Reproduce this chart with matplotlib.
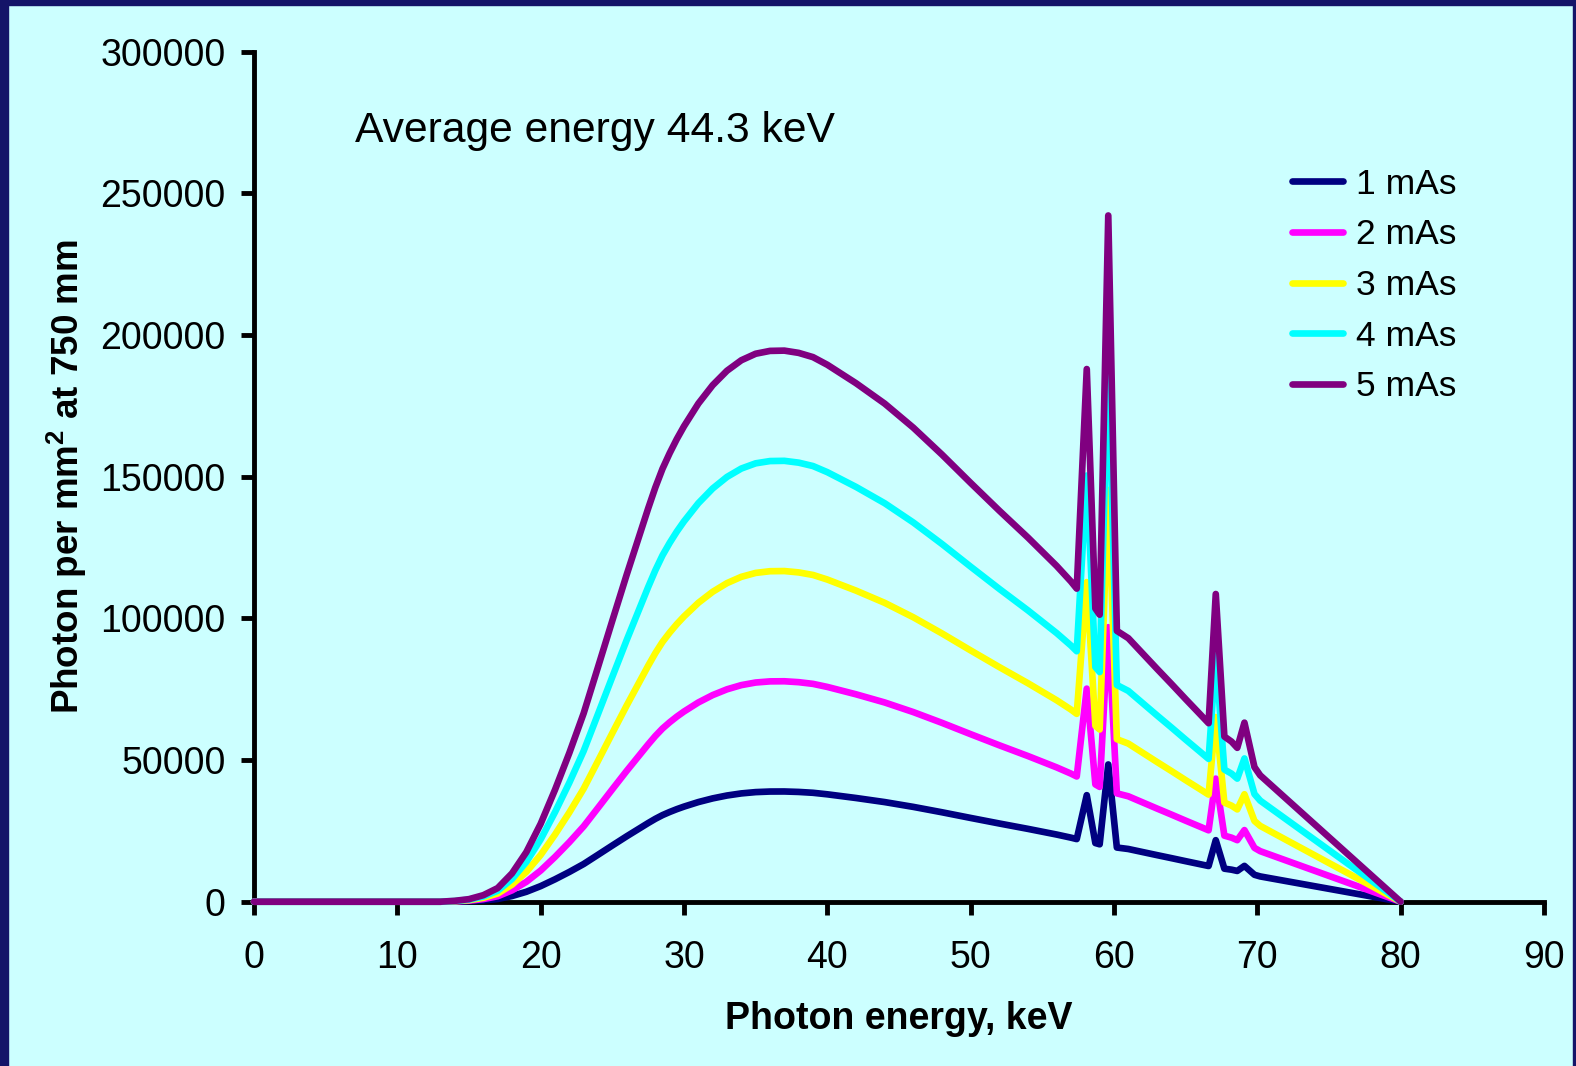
import matplotlib
matplotlib.use("Agg")
import matplotlib.pyplot as plt
from matplotlib.patches import Rectangle

plt.rcParams["font.family"] = ["Liberation Sans", "DejaVu Sans"]
plt.rcParams["mathtext.fontset"] = "custom"
plt.rcParams["mathtext.rm"] = "Liberation Sans"
plt.rcParams["mathtext.bf"] = "Liberation Sans:bold"

# Photon energy grid, keV
energy_kev = [0, 13, 14, 15, 16, 17, 18, 19, 20, 21, 22, 23, 24, 25, 26, 27, 27.5,
              28, 28.5, 29, 29.5, 30, 31, 32, 33, 34, 35, 36, 37, 38, 39, 40, 42,
              44, 46, 48, 50, 52, 54, 55, 56, 57, 57.4, 58.1, 58.7, 59.0, 59.6,
              60.2, 61, 62, 63, 64, 65, 66, 66.6, 67.1, 67.7, 68.2, 68.6, 69.1,
              69.8, 70.2, 72, 74, 76, 78, 80]

# Photons per mm^2 at 750 mm
photons_1mas = [0, 0, 60, 180, 460, 960, 2000, 3500, 5500, 7900, 10500, 13300,
                16560, 19840, 23080, 26200, 27760, 29240, 30560, 31660, 32660,
                33560, 35160, 36460, 37480, 38220, 38680, 38880, 38900, 38740,
                38440, 37900, 36600, 35160, 33460, 31560, 29560, 27600, 25700,
                24700, 23700, 22600, 22100, 37600, 20700, 20260, 48440, 19120,
                18600, 17520, 16440, 15380, 14300, 13240, 12600, 21720, 11660,
                11300, 10860, 12640, 9500, 8920, 7280, 5460, 3640, 1820, 0]
photons_2mas = [0, 0, 120, 360, 920, 1920, 4000, 7000, 11000, 15800, 21000,
                26600, 33120, 39680, 46160, 52400, 55520, 58480, 61120, 63320,
                65320, 67120, 70320, 72920, 74960, 76440, 77360, 77760, 77800,
                77480, 76880, 75800, 73200, 70320, 66920, 63120, 59120, 55200,
                51400, 49400, 47400, 45200, 44200, 75200, 41400, 40520, 96880,
                38240, 37200, 35040, 32880, 30760, 28600, 26480, 25200, 43440,
                23320, 22600, 21720, 25280, 19000, 17840, 14560, 10920, 7280,
                3640, 0]
photons_3mas = [0, 0, 180, 540, 1380, 2880, 6000, 10500, 16500, 23700, 31500,
                39900, 49680, 59520, 69240, 78600, 83280, 87720, 91680, 94980,
                97980, 100680, 105480, 109380, 112440, 114660, 116040, 116640,
                116700, 116220, 115320, 113700, 109800, 105480, 100380, 94680,
                88680, 82800, 77100, 74100, 71100, 67800, 66300, 112800, 62100,
                60780, 145320, 57360, 55800, 52560, 49320, 46140, 42900, 39720,
                37800, 65160, 34980, 33900, 32580, 37920, 28500, 26760, 21840,
                16380, 10920, 5460, 0]
photons_4mas = [0, 0, 240, 720, 1840, 3840, 8000, 14000, 22000, 31600, 42000,
                53200, 66240, 79360, 92320, 104800, 111040, 116960, 122240,
                126640, 130640, 134240, 140640, 145840, 149920, 152880, 154720,
                155520, 155600, 154960, 153760, 151600, 146400, 140640, 133840,
                126240, 118240, 110400, 102800, 98800, 94800, 90400, 88400,
                150400, 82800, 81040, 193760, 76480, 74400, 70080, 65760, 61520,
                57200, 52960, 50400, 86880, 46640, 45200, 43440, 50560, 38000,
                35680, 29120, 21840, 14560, 7280, 0]
photons_5mas = [0, 0, 300, 900, 2300, 4800, 10000, 17500, 27500, 39500, 52500,
                66500, 82800, 99200, 115400, 131000, 138800, 146200, 152800,
                158300, 163300, 167800, 175800, 182300, 187400, 191100, 193400,
                194400, 194500, 193700, 192200, 189500, 183000, 175800, 167300,
                157800, 147800, 138000, 128500, 123500, 118500, 113000, 110500,
                188000, 103500, 101300, 242200, 95600, 93000, 87600, 82200, 76900,
                71500, 66200, 63000, 108600, 58300, 56500, 54300, 63200, 47500,
                44600, 36400, 27300, 18200, 9100, 0]

series_labels = ["1 mAs", "2 mAs", "3 mAs", "4 mAs", "5 mAs"]
series_colors = ["#000080", "#FF00FF", "#FFFF00", "#00FFFF", "#800080"]
x_ticks = [0, 10, 20, 30, 40, 50, 60, 70, 80, 90]
y_ticks = [0, 50000, 100000, 150000, 200000, 250000, 300000]

bg = "#CCFFFF"
frame = "#141468"

fig = plt.figure(figsize=(15.76, 10.66), dpi=100, facecolor=bg)
# dark frame around the slide (top, left, right)
fig.patches.append(Rectangle((0, 1 - 5 / 1066), 1, 5 / 1066, transform=fig.transFigure,
                             color=frame, zorder=0))
fig.patches.append(Rectangle((0, 0), 8 / 1576, 1, transform=fig.transFigure,
                             color=frame, zorder=0))
fig.patches.append(Rectangle((1 - 3 / 1576, 0), 3 / 1576, 1, transform=fig.transFigure,
                             color=frame, zorder=0))

ax = fig.add_axes([254 / 1576, 164.3 / 1066, 1290 / 1576, 850 / 1066])
ax.set_facecolor(bg)

all_series = [photons_1mas, photons_2mas, photons_3mas, photons_4mas, photons_5mas]
for vals, lab, col in zip(all_series, series_labels, series_colors):
    ax.plot(energy_kev, vals, color=col, lw=4.8, label=lab, clip_on=False,
            solid_joinstyle="round", solid_capstyle="round", zorder=3)

ax.set_xlim(0, 90)
ax.set_ylim(0, 300000)
ax.set_xticks(x_ticks)
ax.set_yticks(y_ticks)
ax.set_xticklabels([str(t) for t in x_ticks])
ax.set_yticklabels([str(t) for t in y_ticks])

for s in ["top", "right"]:
    ax.spines[s].set_visible(False)
for s in ["left", "bottom"]:
    ax.spines[s].set_linewidth(3.5)
    ax.spines[s].set_color("black")

ax.tick_params(axis="both", direction="out", length=9.5, width=3.5, labelsize=27,
               colors="black")
ax.tick_params(axis="x", pad=18)
ax.tick_params(axis="y", pad=11)

ax.set_xlabel("Photon energy, keV", fontsize=27, fontweight="bold", labelpad=18)
ax.set_ylabel(r"Photon per mm$^\mathbf{2}$ at 750 mm", fontsize=26.5,
              fontweight="bold", labelpad=8)

ax.text(7.05, 268200, "Average energy 44.3 keV", fontsize=30.7, va="baseline",
        ha="left")

ax.legend(loc="upper left", bbox_to_anchor=(1292.3 / 1576, 1 - 167.6 / 1066),
          bbox_transform=fig.transFigure, frameon=False, fontsize=25.5,
          handlelength=1.42, handletextpad=0.38, labelspacing=0.5,
          borderpad=0, borderaxespad=0)

fig.savefig("out.png", dpi=100, facecolor=bg)
